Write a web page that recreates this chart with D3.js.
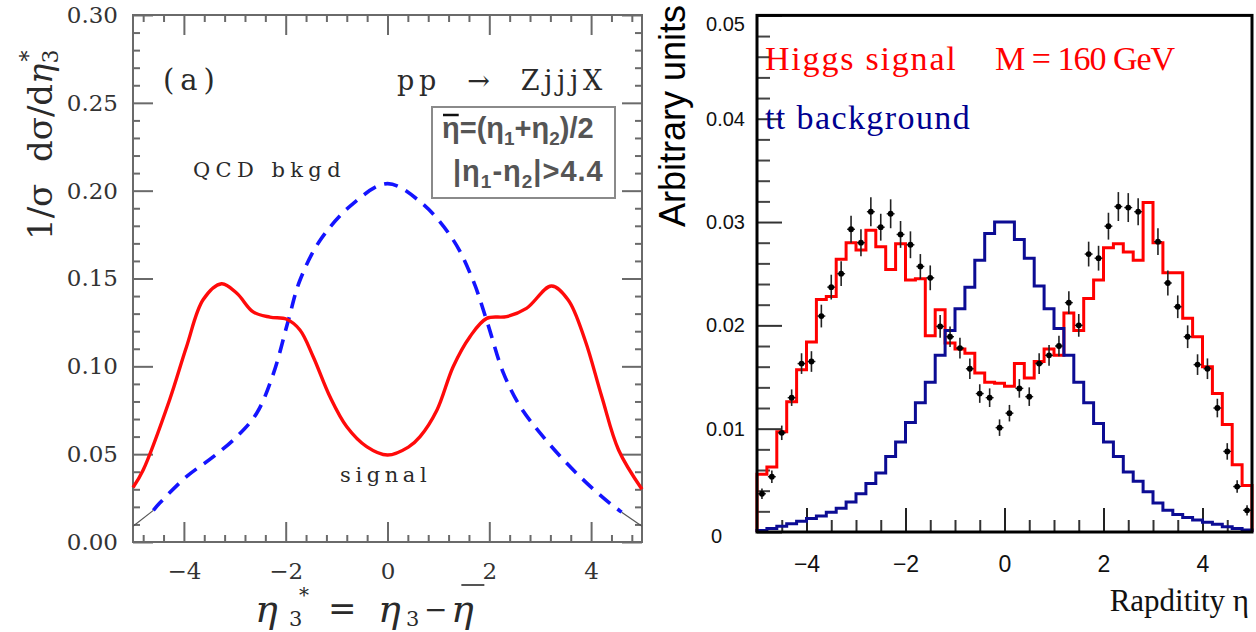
<!DOCTYPE html>
<html><head><meta charset="utf-8">
<script src="https://cdn.jsdelivr.net/npm/d3@7"></script>
<style>body{margin:0;background:#fff}svg{display:block}</style>
</head><body>
<svg id="c" width="1256" height="632"></svg>
<script>
// ---------------- Left panel (a): pp -> ZjjjX ----------------
const signalEta = [-5.0,-4.8,-4.28,-3.95,-3.62,-3.26,-2.96,-2.64,-2.31,-1.98,-1.72,-1.46,-1.13,-0.80,-0.41,0,0.41,0.64,0.97,1.29,1.62,1.95,2.34,2.73,3.22,3.55,3.88,4.21,4.54,5.0];
const signalVal = [0.031,0.041,0.081,0.111,0.138,0.147,0.1416,0.131,0.128,0.1268,0.1207,0.1055,0.0827,0.0656,0.0543,0.0495,0.054,0.060,0.075,0.0998,0.1169,0.1273,0.1283,0.133,0.1457,0.1378,0.115,0.0827,0.0524,0.030];
const qcdEta = [-5.0,-4.6,-4.48,-3.95,-3.42,-2.96,-2.57,-2.24,-1.95,-1.72,-1.32,-0.67,0,0.67,1.29,1.68,1.95,2.28,2.61,3.0,3.46,3.92,4.37,4.6,5.0];
const qcdVal = [0.009,0.018,0.022,0.0372,0.0486,0.060,0.0733,0.096,0.126,0.149,0.1719,0.1928,0.204,0.193,0.172,0.149,0.126,0.096,0.077,0.062,0.0467,0.0334,0.022,0.017,0.009];
const leftXTicks = [-4,-2,0,2,4];
const leftYTicks = [0,0.05,0.10,0.15,0.20,0.25,0.30];

// ---------------- Right panel: Higgs signal vs tt background ----------------
const binStart = -5, binWidth = 0.2;
const higgsSignal = [5.6,6.3,9.7,12.6,15.7,18.4,22.5,22.8,26.4,28.0,27.3,29.2,27.6,25.4,27.9,24.4,24.5,19.0,21.5,18.3,17.7,17.3,15.4,14.5,14.4,14.1,16.3,14.9,16.5,17.7,17.1,21.2,19.5,22.6,24.4,27.5,27.9,27.1,26.3,31.9,28.0,25.1,25.1,20.7,18.9,16.0,13.4,10.4,6.5,4.5].map(v=>v/1000);
const ttBackground = [0.15,0.35,0.55,0.8,1.05,1.3,1.55,1.9,2.3,2.9,3.7,4.7,5.7,7.3,8.7,10.6,12.5,14.5,17.1,19.5,21.6,23.7,26.3,28.9,30.0,30.0,28.3,26.5,23.8,21.6,19.7,17.1,14.5,12.5,10.5,8.7,7.3,5.8,4.9,3.9,2.8,2.1,1.7,1.4,1.15,0.95,0.75,0.5,0.35,0.2].map(v=>v/1000);
const pseudoData = [3.7,5.35,9.6,13.0,16.3,16.5,20.9,23.7,25.0,29.3,28.0,31.0,29.5,30.8,28.8,27.8,25.7,24.6,19.9,18.9,17.8,15.8,13.4,13.0,10.1,11.5,13.9,13.1,16.3,17.1,18.0,22.2,20.0,26.9,26.5,29.6,31.5,31.4,31.0,null,28.1,24.1,21.8,18.9,16.2,15.8,12.0,7.8,4.4,2.1].map(v=>v==null?null:v/1000);
const pseudoErr = [0.5,0.6,0.7,0.8,1.0,1.0,1.1,1.2,1.2,1.3,1.3,1.4,1.3,1.4,1.3,1.3,1.2,1.2,1.1,1.0,1.0,1.0,0.9,0.9,0.8,0.8,0.9,0.9,1.0,1.0,1.0,1.1,1.1,1.2,1.2,1.3,1.4,1.4,1.3,null,1.3,1.2,1.1,1.1,1.0,1.0,0.9,0.8,0.6,0.5].map(v=>v==null?null:v/1000);
const rightXTicks = [-4,-2,0,2,4];
const rightYTicks = [0,0.01,0.02,0.03,0.04,0.05];

const svg = d3.select("#c");
const serif = "DejaVu Serif";

// ===== LEFT =====
const xL = d3.scaleLinear().domain([-5,5]).range([133,642]);
const yL = d3.scaleLinear().domain([0,0.30]).range([542,15]);
const gray = "#6a6a6a";
const L = svg.append("g");

function styleTicks(g, color, w){
  g.select(".domain").remove();
  g.selectAll(".tick line").attr("stroke", color).attr("stroke-width", w);
}
const leftMinorX = d3.range(-4.8, 4.85, 0.4).filter(v => Math.abs(v/2 - Math.round(v/2)) > 0.02);
const leftMinorY = d3.range(0.01, 0.30, 0.01).filter(v => Math.abs(v/0.05 - Math.round(v/0.05)) > 0.02);

// bottom
L.append("g").attr("transform","translate(0,542)")
  .call(d3.axisBottom(xL).tickValues(leftXTicks).tickSize(-20).tickPadding(21).tickFormat(d3.format("d")))
  .call(g=>styleTicks(g,gray,2))
  .call(g=>g.selectAll("text").attr("font-family",serif).attr("font-size",23).attr("fill","#333"));
L.append("g").attr("transform","translate(0,542)")
  .call(d3.axisBottom(xL).tickValues(leftMinorX).tickSize(-7).tickFormat(""))
  .call(g=>styleTicks(g,gray,2));
// top
L.append("g").attr("transform","translate(0,15)")
  .call(d3.axisTop(xL).tickValues(leftXTicks).tickSize(-20).tickFormat(""))
  .call(g=>styleTicks(g,gray,2));
L.append("g").attr("transform","translate(0,15)")
  .call(d3.axisTop(xL).tickValues(leftMinorX).tickSize(-7).tickFormat(""))
  .call(g=>styleTicks(g,gray,2));
// left
L.append("g").attr("transform","translate(133,0)")
  .call(d3.axisLeft(yL).tickValues(leftYTicks).tickSize(-20).tickPadding(15).tickFormat(d3.format(".2f")))
  .call(g=>styleTicks(g,gray,2))
  .call(g=>g.selectAll("text").attr("font-family",serif).attr("font-size",23).attr("fill","#333"));
L.append("g").attr("transform","translate(133,0)")
  .call(d3.axisLeft(yL).tickValues(leftMinorY).tickSize(-7).tickFormat(""))
  .call(g=>styleTicks(g,gray,2));
// right
L.append("g").attr("transform","translate(642,0)")
  .call(d3.axisRight(yL).tickValues(leftYTicks).tickSize(-20).tickFormat(""))
  .call(g=>styleTicks(g,gray,2));
L.append("g").attr("transform","translate(642,0)")
  .call(d3.axisRight(yL).tickValues(leftMinorY).tickSize(-7).tickFormat(""))
  .call(g=>styleTicks(g,gray,2));
// frame
L.append("rect").attr("x",xL(-5)).attr("y",yL(0.30)).attr("width",xL(5)-xL(-5)).attr("height",yL(0)-yL(0.30))
  .attr("fill","none").attr("stroke",gray).attr("stroke-width",2);

// curves
const lineL = d3.line().x(d=>xL(d[0])).y(d=>yL(d[1])).curve(d3.curveCatmullRom.alpha(0.5));
const sigPts = signalEta.map((e,i)=>[e,signalVal[i]]);
const qcdPts = qcdEta.map((e,i)=>[e,qcdVal[i]]);
const qcdMain = qcdPts.filter(d=>Math.abs(d[0])<=4.6+1e-9);
L.append("path").attr("d",lineL(qcdPts.filter(d=>d[0]<=-4.6+1e-9))).attr("fill","none").attr("stroke","#555").attr("stroke-width",1.2);
L.append("path").attr("d",lineL(qcdPts.filter(d=>d[0]>=4.6-1e-9))).attr("fill","none").attr("stroke","#555").attr("stroke-width",1.2);
L.append("path").attr("d",lineL(qcdMain)).attr("fill","none").attr("stroke","#1414ff").attr("stroke-width",3.6).attr("stroke-dasharray","14,9");
L.append("path").attr("d",lineL(sigPts)).attr("fill","none").attr("stroke","#ff0a0a").attr("stroke-width",3.4);

// annotations
function lbl(x,y,t,size,ls){
  return L.append("text").attr("x",x).attr("y",y).attr("font-family",serif).attr("font-size",size)
    .attr("fill","#2a2a2a").attr("letter-spacing",ls||0).style("white-space","pre").text(t);
}
lbl(163,90,"(a)",29,6);
lbl(397,90,"pp  \u2192  ZjjjX",27,4.6);
lbl(193,177,"QCD bkgd",21,5.4);
lbl(340,482,"signal",21,4.6);

// legend box
L.append("rect").attr("x",432).attr("y",107).attr("width",183).attr("height",91)
  .attr("fill","#fff").attr("stroke","#8a8a8a").attr("stroke-width",2);
const bold = "Liberation Sans";
const t1 = L.append("text").attr("x",442).attr("y",138).attr("font-family",bold).attr("font-weight","bold").attr("font-size",29).attr("fill","#555");
t1.append("tspan").text("\u03b7=(\u03b7");
t1.append("tspan").attr("dy",7).attr("font-size",19).text("1");
t1.append("tspan").attr("dy",-7).text("+\u03b7");
t1.append("tspan").attr("dy",7).attr("font-size",19).text("2");
t1.append("tspan").attr("dy",-7).text(")/2");
const t2 = L.append("text").attr("x",453).attr("y",181).attr("font-family",bold).attr("font-weight","bold").attr("font-size",29).attr("fill","#555").attr("letter-spacing",1);
t2.append("tspan").text("|\u03b7");
t2.append("tspan").attr("dy",7).attr("font-size",19).text("1");
t2.append("tspan").attr("dy",-7).text("-\u03b7");
t2.append("tspan").attr("dy",7).attr("font-size",19).text("2");
t2.append("tspan").attr("dy",-7).text("|>4.4");
{
  const ext = t1.node().getExtentOfChar(0);
  L.append("line").attr("x1",ext.x+1).attr("x2",ext.x+ext.width-1).attr("y1",115).attr("y2",115)
    .attr("stroke","#111").attr("stroke-width",2.5);
}

// axis titles (left)
const yt = L.append("text").attr("transform","translate(52,240) rotate(-90)")
  .attr("font-family",serif).attr("font-size",34).attr("fill","#2a2a2a").style("white-space","pre");
yt.append("tspan").text("1/\u03c3  d\u03c3/d");
yt.append("tspan").attr("font-style","italic").text("\u03b7");
yt.append("tspan").attr("dy",6).attr("font-size",22).text("3");
yt.append("tspan").attr("dy",-22).attr("dx",-12).attr("font-size",22).text("*");

function xtxt(x,y,t,size,italic){
  return L.append("text").attr("x",x).attr("y",y).attr("font-family",serif).attr("font-size",size)
    .attr("font-style",italic?"italic":"normal").attr("fill","#2a2a2a").text(t);
}
xtxt(255,622,"\u03b7",38,true);
xtxt(299,602,"*",20,false);
xtxt(289,626,"3",21,false);
xtxt(328,620,"=",34,false);
xtxt(378,622,"\u03b7",38,true);
xtxt(406,626,"3",21,false);
xtxt(424,619,"\u2212",28,false);
const etaBar = xtxt(451,622,"\u03b7",38,true);
{
  const b = etaBar.node().getBBox();
  L.append("line").attr("x1",b.x+b.width*0.45).attr("x2",b.x+b.width*1.45).attr("y1",585).attr("y2",585)
    .attr("stroke","#2a2a2a").attr("stroke-width",1.6);
}

// ===== RIGHT =====
const xR = d3.scaleLinear().domain([-5,5]).range([757,1252]);
const yR = d3.scaleLinear().domain([0,0.05]).range([532,15.4]);
const R = svg.append("g");
const sans = "Liberation Sans";
const rightMinorX = d3.range(-4.5, 4.6, 0.5).filter(v => Math.abs(v/2 - Math.round(v/2)) > 0.02);
const rightMinorY = d3.range(0.002, 0.05, 0.002).filter(v => Math.abs(v/0.01 - Math.round(v/0.01)) > 0.02);

R.append("g").attr("transform","translate(0,532)")
  .call(d3.axisBottom(xR).tickValues(rightXTicks).tickSize(-24).tickPadding(24).tickFormat(d3.format("d")))
  .call(g=>styleTicks(g,"#222",2))
  .call(g=>g.selectAll("text").attr("font-family",sans).attr("font-size",23).attr("fill","#111"));
R.append("g").attr("transform","translate(0,532)")
  .call(d3.axisBottom(xR).tickValues(rightMinorX).tickSize(-12).tickFormat(""))
  .call(g=>styleTicks(g,"#333",2));
R.append("g").attr("transform","translate(757,0)")
  .call(d3.axisLeft(yR).tickValues(rightYTicks).tickSize(-25).tickPadding(12).tickFormat(d=>d===0?"0":d3.format(".2f")(d)))
  .call(g=>styleTicks(g,"#333",2))
  .call(g=>g.selectAll("text").attr("font-family",sans).attr("font-size",20).attr("fill","#111"))
  .call(g=>g.selectAll(".tick").filter(d=>d===0).select("text").attr("x",-35).attr("dy","0.5em"))
  .call(g=>g.selectAll(".tick").filter(d=>d===0.05).select("text").attr("dy","0.75em"));
R.append("g").attr("transform","translate(757,0)")
  .call(d3.axisLeft(yR).tickValues(rightMinorY).tickSize(-13).tickFormat(""))
  .call(g=>styleTicks(g,"#444",2));

// histograms
function histPts(vals){
  const pts = [[binStart,0]];
  vals.forEach((v,i)=>pts.push([binStart+i*binWidth, v]));
  pts.push([binStart+vals.length*binWidth, vals[vals.length-1]]);
  pts.push([binStart+vals.length*binWidth, 0]);
  return pts;
}
const stepLine = d3.line().x(d=>xR(d[0])).y(d=>yR(d[1])).curve(d3.curveStepAfter);
R.append("path").attr("d",stepLine(histPts(higgsSignal))).attr("fill","none").attr("stroke","#ff0000").attr("stroke-width",3);
R.append("path").attr("d",stepLine(histPts(ttBackground))).attr("fill","none").attr("stroke","#0c0c94").attr("stroke-width",3);

// pseudo-data points with error bars
const pd = pseudoData.map((v,i)=>({x:binStart+(i+0.5)*binWidth, v, e:pseudoErr[i]})).filter(d=>d.v!=null);
const P = R.append("g");
P.selectAll("line.ev").data(pd).join("line").attr("class","ev")
  .attr("x1",d=>xR(d.x)).attr("x2",d=>xR(d.x)).attr("y1",d=>yR(d.v-d.e)).attr("y2",d=>yR(d.v+d.e))
  .attr("stroke","#222").attr("stroke-width",1.6);
P.selectAll("line.eh").data(pd).join("line").attr("class","eh")
  .attr("x1",d=>xR(d.x-0.08)).attr("x2",d=>xR(d.x+0.08)).attr("y1",d=>yR(d.v)).attr("y2",d=>yR(d.v))
  .attr("stroke","#222").attr("stroke-width",1.4);
P.selectAll("circle").data(pd).join("circle")
  .attr("cx",d=>xR(d.x)).attr("cy",d=>yR(d.v)).attr("r",2.9).attr("fill","#000");

// frame
R.append("rect").attr("x",xR(-5)).attr("y",yR(0.05)).attr("width",xR(5)-xR(-5)).attr("height",yR(0)-yR(0.05))
  .attr("fill","none").attr("stroke","#000").attr("stroke-width",3);

// legend texts
const times = "Liberation Serif";
R.append("text").attr("x",765).attr("y",70).attr("font-family",times).attr("font-size",34).attr("letter-spacing",1.8).attr("fill","#ff0000").text("Higgs signal");
R.append("text").attr("x",995).attr("y",70).attr("font-family",times).attr("font-size",34).attr("letter-spacing",-1).attr("fill","#ff0000").text("M = 160 GeV");
R.append("text").attr("x",765).attr("y",129).attr("font-family",times).attr("font-size",34).attr("letter-spacing",1.4).attr("fill","#000090").text("tt background");

// axis titles (right)
R.append("text").attr("transform","translate(685,116) rotate(-90)").attr("text-anchor","middle")
  .attr("font-family",sans).attr("font-size",36).attr("fill","#000").text("Arbitrary units");
R.append("text").attr("x",1249).attr("y",611).attr("text-anchor","end")
  .attr("font-family",times).attr("font-size",31).attr("fill","#111").text("Rapditity \u03b7");
</script>
</body></html>
